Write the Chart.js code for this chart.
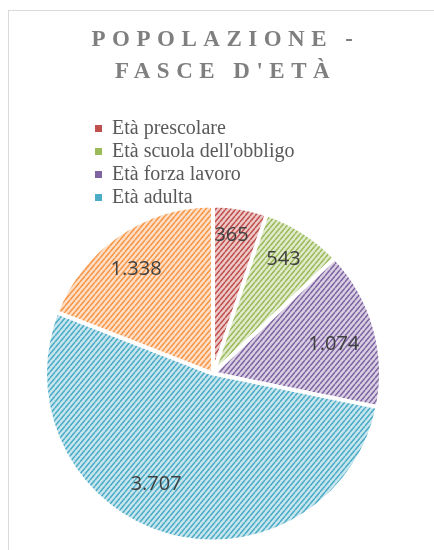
<!DOCTYPE html>
<html>
<head>
<meta charset="utf-8">
<script src="https://cdn.jsdelivr.net/npm/chart.js@4.4.1/dist/chart.umd.min.js"></script>
<style>
  html, body { margin: 0; padding: 0; background: #fff; }
  canvas { display: block; }
</style>
</head>
<body>
<canvas id="chart" width="434" height="550"></canvas>
<script>
// data
const titleLines = ["POPOLAZIONE -", "FASCE D'ETÀ"];
const labels = ["Età prescolare", "Età scuola dell'obbligo", "Età forza lavoro", "Età adulta", "Età anziana"];
const values = [365, 543, 1074, 3707, 1338];
const colors = ["#C0504D", "#9BBB59", "#8064A2", "#4BACC6", "#F79646"];
const legendShown = 4; // the legend in the picture only lists the first four

// where each value label sits: share of the radius, and a small turn in degrees
const labelDepth = [0.83, 0.80, 0.74, 0.74, 0.77];
const labelTurn = [-1.7, -1, 2.3, 10.7, -2.2];

const frame = { x: 8.5, y: 10.5, w: 434, h: 600 };
const legendAt = { x: 92, y: 115.5 };

const fmt = (v) => String(v).replace(/\B(?=(\d{3})+(?!\d))/g, ".");

// diagonal hatch like the office pattern fill
function hatch(color) {
  const w = 5, h = 6;
  const tile = document.createElement("canvas");
  tile.width = w;
  tile.height = h;
  const t = tile.getContext("2d");
  t.fillStyle = "#fff";
  t.fillRect(0, 0, w, h);
  t.globalAlpha = 0.3;
  t.fillStyle = color;
  t.fillRect(0, 0, w, h);
  t.globalAlpha = 1;
  t.strokeStyle = color;
  t.lineWidth = 1.5;
  t.beginPath();
  for (const dx of [-w, 0, w]) {
    t.moveTo(dx, h);
    t.lineTo(dx + w, 0);
  }
  t.stroke();
  return t.createPattern(tile, "repeat");
}

const excelFrame = {
  id: "excelFrame",
  afterLayout(chart) {
    const tb = chart.titleBlock;
    if (tb) {
      tb.left = frame.x;
      tb.right = frame.x + frame.w;
      if (!tb._spaced) {
        const draw = tb.draw.bind(tb);
        tb.draw = function () {
          chart.ctx.save();
          chart.ctx.letterSpacing = "6.5px";
          draw();
          chart.ctx.restore();
        };
        tb._spaced = true;
      }
    }
    const lg = chart.legend;
    if (lg) {
      lg.left = legendAt.x;
      lg.top = legendAt.y;
    }
  },
  beforeDraw(chart) {
    const ctx = chart.ctx;
    ctx.save();
    ctx.strokeStyle = "#d9d9d9";
    ctx.lineWidth = 1;
    ctx.strokeRect(frame.x, frame.y, frame.w, frame.h);
    ctx.restore();
  }
};

const valueLabels = {
  id: "valueLabels",
  afterDatasetsDraw(chart) {
    const ctx = chart.ctx;
    const meta = chart.getDatasetMeta(0);
    ctx.save();
    ctx.font = '20px "Open Sans"';
    ctx.fillStyle = "#404040";
    ctx.textAlign = "center";
    ctx.textBaseline = "middle";
    meta.data.forEach((arc, i) => {
      const p = arc.getProps(["x", "y", "startAngle", "endAngle", "outerRadius"], true);
      const mid = (p.startAngle + p.endAngle) / 2 + labelTurn[i] * Math.PI / 180;
      const r = p.outerRadius * labelDepth[i];
      ctx.fillText(fmt(values[i]), p.x + Math.cos(mid) * r, p.y + Math.sin(mid) * r);
    });
    ctx.restore();
  }
};

new Chart(document.getElementById("chart"), {
  type: "pie",
  data: {
    labels: labels,
    datasets: [{
      data: values,
      backgroundColor: colors.map(hatch),
      borderColor: "#fff",
      borderWidth: 4
    }]
  },
  options: {
    responsive: false,
    animation: false,
    layout: { padding: { left: 43, right: 51, top: 0, bottom: 6 } },
    plugins: {
      title: {
        display: true,
        text: titleLines,
        color: "#7f7f7f",
        font: { family: "Liberation Serif", size: 23, weight: "bold", lineHeight: 1.35 },
        padding: { top: 25, bottom: 116 }
      },
      legend: {
        position: "chartArea",
        align: "start",
        labels: {
          boxWidth: 7,
          boxHeight: 7,
          padding: 3,
          color: "#595959",
          font: { family: "Liberation Serif", size: 20 },
          filter: (item) => item.index < legendShown,
          generateLabels: (chart) =>
            Chart.overrides.pie.plugins.legend.labels.generateLabels(chart).map((item, i) => ({
              ...item,
              fillStyle: colors[i],
              strokeStyle: colors[i],
              lineWidth: 0
            }))
        }
      },
      tooltip: { enabled: false }
    }
  },
  plugins: [excelFrame, valueLabels]
});
</script>
</body>
</html>
